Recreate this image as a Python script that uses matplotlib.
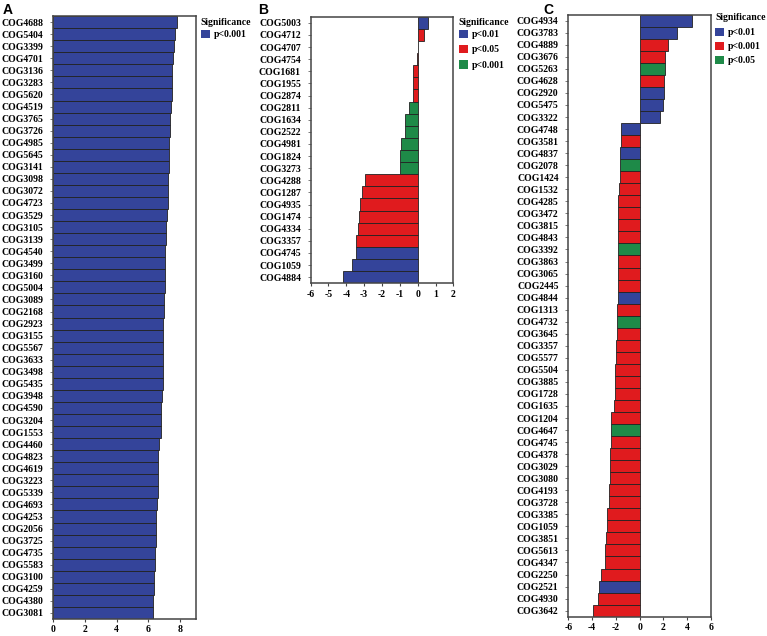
import matplotlib
matplotlib.use("Agg")
import matplotlib.pyplot as plt
from matplotlib.patches import Patch

# ---------------- data ----------------
a_labels = ["COG4688", "COG5404", "COG3399", "COG4701", "COG3136", "COG3283", "COG5620", "COG4519",
            "COG3765", "COG3726", "COG4985", "COG5645", "COG3141", "COG3098", "COG3072", "COG4723",
            "COG3529", "COG3105", "COG3139", "COG4540", "COG3499", "COG3160", "COG5004", "COG3089",
            "COG2168", "COG2923", "COG3155", "COG5567", "COG3633", "COG3498", "COG5435", "COG3948",
            "COG4590", "COG3204", "COG1553", "COG4460", "COG4823", "COG4619", "COG3223", "COG5339",
            "COG4693", "COG4253", "COG2056", "COG3725", "COG4735", "COG5583", "COG3100", "COG4259",
            "COG4380", "COG3081"]
a_values = [7.79, 7.67, 7.62, 7.52, 7.50, 7.46, 7.46, 7.40, 7.38, 7.35, 7.33, 7.31, 7.29, 7.25, 7.23, 7.23,
            7.15, 7.08, 7.08, 7.04, 7.04, 7.04, 7.02, 6.98, 6.96, 6.94, 6.94, 6.94, 6.94, 6.90, 6.90, 6.85,
            6.80, 6.77, 6.77, 6.69, 6.60, 6.60, 6.60, 6.60, 6.52, 6.50, 6.48, 6.48, 6.42, 6.40, 6.35, 6.35,
            6.31, 6.31]
a_sig = ["p<0.001"] * len(a_labels)
a_legend = ["p<0.001"]

b_labels = ["COG5003", "COG4712", "COG4707", "COG4754", "COG1681", "COG1955", "COG2874", "COG2811",
            "COG1634", "COG2522", "COG4981", "COG1824", "COG3273", "COG4288", "COG1287", "COG4935",
            "COG1474", "COG4334", "COG3357", "COG4745", "COG1059", "COG4884"]
b_values = [0.56, 0.34, 0.02, -0.02, -0.24, -0.24, -0.24, -0.50, -0.73, -0.73, -0.95, -0.97, -0.97,
            -2.97, -3.14, -3.21, -3.31, -3.33, -3.44, -3.46, -3.70, -4.17]
b_sig = ["p<0.01", "p<0.05", "p<0.05", "p<0.05", "p<0.05", "p<0.05", "p<0.05", "p<0.001",
         "p<0.001", "p<0.001", "p<0.001", "p<0.001", "p<0.001", "p<0.05", "p<0.05", "p<0.05",
         "p<0.05", "p<0.05", "p<0.05", "p<0.01", "p<0.01", "p<0.01"]
b_legend = ["p<0.01", "p<0.05", "p<0.001"]

c_labels = ["COG4934", "COG3783", "COG4889", "COG3676", "COG5263", "COG4628", "COG2920", "COG5475",
            "COG3322", "COG4748", "COG3581", "COG4837", "COG2078", "COG1424", "COG1532", "COG4285",
            "COG3472", "COG3815", "COG4843", "COG3392", "COG3863", "COG3065", "COG2445", "COG4844",
            "COG1313", "COG4732", "COG3645", "COG3357", "COG5577", "COG5504", "COG3885", "COG1728",
            "COG1635", "COG1204", "COG4647", "COG4745", "COG4378", "COG3029", "COG3080", "COG4193",
            "COG3728", "COG3385", "COG1059", "COG3851", "COG5613", "COG4347", "COG2250", "COG2521",
            "COG4930", "COG3642"]
c_values = [4.43, 3.14, 2.41, 2.13, 2.13, 2.07, 2.05, 1.99, 1.74, -1.57, -1.57, -1.63, -1.63, -1.68,
            -1.74, -1.79, -1.79, -1.79, -1.79, -1.79, -1.82, -1.82, -1.82, -1.85, -1.91, -1.88, -1.93,
            -1.96, -2.02, -2.05, -2.10, -2.10, -2.16, -2.38, -2.41, -2.44, -2.50, -2.50, -2.50, -2.55,
            -2.55, -2.72, -2.75, -2.86, -2.92, -2.92, -3.28, -3.42, -3.53, -3.92]
c_sig = ["p<0.01", "p<0.01", "p<0.001", "p<0.001", "p<0.05", "p<0.001", "p<0.01", "p<0.01",
         "p<0.01", "p<0.01", "p<0.001", "p<0.01", "p<0.05", "p<0.001", "p<0.001", "p<0.001",
         "p<0.001", "p<0.001", "p<0.001", "p<0.05", "p<0.001", "p<0.001", "p<0.001", "p<0.01",
         "p<0.001", "p<0.05", "p<0.001", "p<0.001", "p<0.001", "p<0.001", "p<0.001", "p<0.001",
         "p<0.001", "p<0.001", "p<0.05", "p<0.001", "p<0.001", "p<0.001", "p<0.001", "p<0.001",
         "p<0.001", "p<0.001", "p<0.001", "p<0.001", "p<0.001", "p<0.001", "p<0.001", "p<0.01",
         "p<0.001", "p<0.001"]
c_legend = ["p<0.01", "p<0.001", "p<0.05"]

# ---------------- style ----------------
BLUE = "#34449A"
RED = "#E01B1E"
GREEN = "#1E8A48"
a_colors = {"p<0.001": BLUE}
b_colors = {"p<0.01": BLUE, "p<0.05": RED, "p<0.001": GREEN}
c_colors = {"p<0.01": BLUE, "p<0.001": RED, "p<0.05": GREEN}

SERIF = ["Liberation Serif", "DejaVu Serif"]
FS = 7.0

fig = plt.figure(figsize=(7.67, 6.36), dpi=100)


def panel(rect, labels, values, sig, cmap, legend_items, xlim, xticks, letter, letter_x,
          title_pos, leg_anchor, leg_dy):
    ax = fig.add_axes(rect)
    y = list(range(len(labels)))
    cols = [cmap[s] for s in sig]
    ax.barh(y, values, height=1.0, color=cols, edgecolor="#222222", linewidth=0.6)
    ax.set_ylim(len(labels) - 0.5, -0.5)
    ax.set_xlim(*xlim)
    ax.set_yticks(y)
    ax.set_yticklabels(labels, fontfamily=SERIF, fontweight="bold", fontsize=FS)
    ax.set_xticks(xticks)
    ax.set_xticklabels([str(t) for t in xticks], fontfamily=SERIF, fontweight="bold", fontsize=FS)
    ax.tick_params(axis="y", length=2.5, width=0.6, color="#666666", pad=4.5)
    ax.tick_params(axis="x", length=2.5, width=0.8, color="#444444", pad=2)
    for s in ax.spines.values():
        s.set_linewidth(1.1)
        s.set_color("#444444")
    handles = [Patch(facecolor=cmap[k], edgecolor="none", label=k) for k in legend_items]
    ax.legend(handles=handles, loc="upper left", bbox_to_anchor=leg_anchor, frameon=False,
              prop={"family": SERIF, "weight": "bold", "size": FS},
              handlelength=0.9, handleheight=0.95, handletextpad=0.45,
              labelspacing=leg_dy, borderaxespad=0.0, borderpad=0.0)
    ax.text(title_pos[0], title_pos[1], "Significance", transform=ax.transAxes,
            fontfamily=SERIF, fontweight="bold", fontsize=FS, ha="left", va="center")
    fig.text(letter_x, 0.995, letter, fontsize=10, fontweight="bold",
             family=["Liberation Sans", "DejaVu Sans"], va="top", ha="left")
    return ax


panel([0.0695, 0.0267, 0.186, 0.948], a_labels, a_values, a_sig, a_colors, a_legend,
      (0, 9), [0, 2, 4, 6, 8], "A", 0.004, (1.028, 0.990), (1.035, 0.977), 0.6)
panel([0.405, 0.5546, 0.1862, 0.419], b_labels, b_values, b_sig, b_colors, b_legend,
      (-6, 2), [-6, -5, -4, -3, -2, -1, 0, 1, 2], "B", 0.337, (1.036, 0.980), (1.0385, 0.952), 0.6)
panel([0.741, 0.0304, 0.1858, 0.9465], c_labels, c_values, c_sig, c_colors, c_legend,
      (-6, 6), [-6, -4, -2, 0, 2, 4, 6], "C", 0.708, (1.029, 0.996), (1.029, 0.978), 0.45)

fig.savefig("out.png", dpi=100)
